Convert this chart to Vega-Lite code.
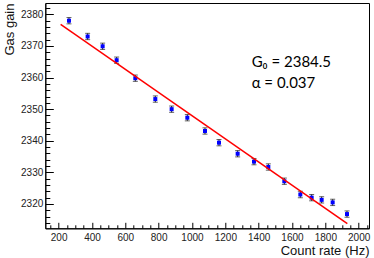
{
  "$schema": "https://vega.github.io/schema/vega-lite/v6.json",
  "width": 323.7,
  "height": 225.3,
  "autosize": "none",
  "padding": {"left": 45.3, "top": 3, "right": 5, "bottom": 29.7},
  "background": "white",
  "config": {
    "view": {"stroke": "black", "strokeWidth": 1},
    "axis": {"grid": false, "domainColor": "black", "tickColor": "black", "labelFont": "Liberation Sans", "labelFontSize": 10, "labelColor": "#222", "titleFont": "Liberation Sans", "titleFontWeight": "normal", "titleFontSize": 13, "titleColor": "#111"}
  },
  "datasets": {
    "pts": [
      {"rate": 262, "gain": 2378.0, "err": 1.0},
      {"rate": 374, "gain": 2373.0, "err": 1.0},
      {"rate": 464, "gain": 2369.9, "err": 1.0},
      {"rate": 548, "gain": 2365.5, "err": 1.0},
      {"rate": 660, "gain": 2359.8, "err": 1.0},
      {"rate": 780, "gain": 2353.2, "err": 1.0},
      {"rate": 878, "gain": 2350.0, "err": 1.0},
      {"rate": 972, "gain": 2347.3, "err": 1.0},
      {"rate": 1078, "gain": 2343.1, "err": 1.0},
      {"rate": 1162, "gain": 2339.4, "err": 1.0},
      {"rate": 1274, "gain": 2335.9, "err": 1.0},
      {"rate": 1372, "gain": 2333.4, "err": 1.0},
      {"rate": 1458, "gain": 2331.7, "err": 1.0},
      {"rate": 1554, "gain": 2327.2, "err": 1.0},
      {"rate": 1650, "gain": 2323.0, "err": 1.0},
      {"rate": 1718, "gain": 2322.0, "err": 1.0},
      {"rate": 1778, "gain": 2321.3, "err": 1.0},
      {"rate": 1844, "gain": 2320.5, "err": 1.0},
      {"rate": 1930, "gain": 2316.8, "err": 1.0}
    ],
    "fit": [
      {"rate": 212, "gain": 2376.8},
      {"rate": 1932, "gain": 2313.8}
    ],
    "ann": [
      {"rate": 1358, "gain": 2363.3, "label": "G₀ = 2384.5"},
      {"rate": 1358, "gain": 2356.7, "label": "α = 0.037"}
    ]
  },
  "resolve": {"axis": {"x": "independent", "y": "independent"}},
  "layer": [
    {
      "data": {"name": "pts"},
      "mark": {"type": "errorbar", "color": "#222", "ticks": {"size": 5, "color": "#222"}},
      "encoding": {
        "x": {"field": "rate", "type": "quantitative", "scale": {"domain": [120, 2062], "nice": false, "zero": false},
          "axis": {"orient": "bottom", "title": "Count rate (Hz)", "format": "d", "values": [200, 400, 600, 800, 1000, 1200, 1400, 1600, 1800, 2000], "tickSize": -6, "labelPadding": 10, "titleAnchor": "end", "titleAlign": "right", "titleX": 323.7, "titleY": 26, "titleBaseline": "alphabetic"}},
        "y": {"field": "gain", "type": "quantitative", "scale": {"domain": [2312.3, 2383.6], "nice": false, "zero": false},
          "axis": {"orient": "left", "title": "Gas gain", "format": "d", "values": [2320, 2330, 2340, 2350, 2360, 2370, 2380], "tickSize": -8, "labelPadding": 10.5, "titleAnchor": "end", "titleAlign": "right", "titleAngle": -90, "titleX": -29, "titleY": 0, "titleBaseline": "bottom"}},
        "yError": {"field": "err"}
      }
    },
    {
      "data": {"name": "pts"},
      "mark": {"type": "square", "color": "#0000ff", "filled": true, "opacity": 1, "size": 16},
      "encoding": {
        "x": {"field": "rate", "type": "quantitative", "scale": {"domain": [120, 2062], "nice": false, "zero": false},
          "axis": {"orient": "bottom", "title": null, "labels": false, "domain": false, "values": [150, 250, 300, 350, 450, 500, 550, 650, 700, 750, 850, 900, 950, 1050, 1100, 1150, 1250, 1300, 1350, 1450, 1500, 1550, 1650, 1700, 1750, 1850, 1900, 1950, 2050], "tickSize": -3.5}},
        "y": {"field": "gain", "type": "quantitative", "scale": {"domain": [2312.3, 2383.6], "nice": false, "zero": false},
          "axis": {"orient": "left", "title": null, "labels": false, "domain": false, "values": [2314, 2316, 2318, 2322, 2324, 2326, 2328, 2332, 2334, 2336, 2338, 2342, 2344, 2346, 2348, 2352, 2354, 2356, 2358, 2362, 2364, 2366, 2368, 2372, 2374, 2376, 2378, 2382], "tickSize": -4.5}}
      }
    },
    {
      "data": {"name": "fit"},
      "mark": {"type": "line", "color": "#ff0000", "strokeWidth": 1.5},
      "encoding": {
        "x": {"field": "rate", "type": "quantitative", "axis": null},
        "y": {"field": "gain", "type": "quantitative", "axis": null}
      }
    },
    {
      "data": {"name": "ann"},
      "mark": {"type": "text", "align": "left", "baseline": "alphabetic", "font": "Lato", "fontSize": 15, "color": "black"},
      "encoding": {
        "x": {"field": "rate", "type": "quantitative", "axis": null},
        "y": {"field": "gain", "type": "quantitative", "axis": null},
        "text": {"field": "label"}
      }
    }
  ]
}
